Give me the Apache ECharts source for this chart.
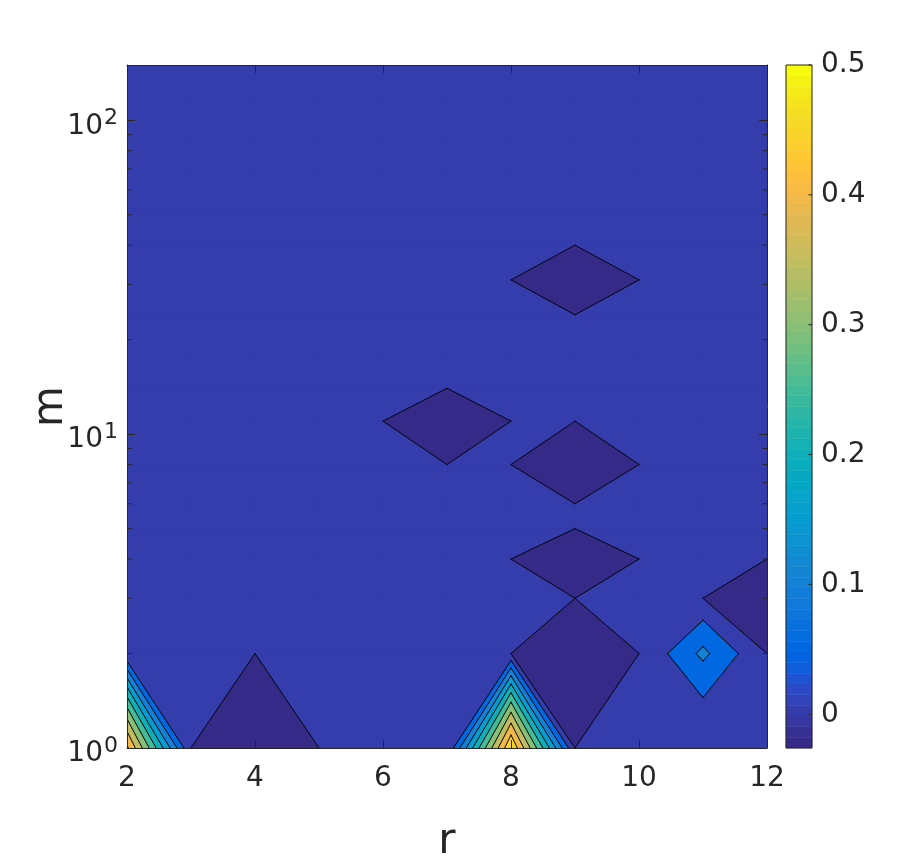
<!DOCTYPE html>
<html><head><meta charset="utf-8">
<script src="https://cdn.jsdelivr.net/npm/echarts@6/dist/echarts.min.js"></script>
<style>html,body{margin:0;padding:0;background:#fff}#c{width:915px;height:863px}</style>
</head><body><div id="c"></div>
<script>
// ---- data ----
const rValues = [2, 3, 4, 5, 6, 7, 8, 9, 10, 11, 12];
const mValues = [1, 2, 3, 4, 5, 6, 8, 11, 14, 18, 24, 31, 40, 52, 68, 89, 116, 150];
// zValues[i] = row for mValues[i], one value per rValues entry
const zValues = [
  [0.46, 0, -0.02, 0, 0, 0, 0.5, 0, 0, 0, 0],      // m=1
  [0, 0, 0, 0, 0, 0, 0, -0.02, 0, 0.112, 0],       // m=2
  [0, 0, 0, 0, 0, 0, 0, 0, 0, 0, -0.02],           // m=3
  [0, 0, 0, 0, 0, 0, 0, -0.02, 0, 0, 0],           // m=4
  [0, 0, 0, 0, 0, 0, 0, 0, 0, 0, 0],               // m=5
  [0, 0, 0, 0, 0, 0, 0, 0, 0, 0, 0],               // m=6
  [0, 0, 0, 0, 0, 0, 0, -0.02, 0, 0, 0],           // m=8
  [0, 0, 0, 0, 0, -0.02, 0, 0, 0, 0, 0],           // m=11
  [0, 0, 0, 0, 0, 0, 0, 0, 0, 0, 0],               // m=14
  [0, 0, 0, 0, 0, 0, 0, 0, 0, 0, 0],               // m=18
  [0, 0, 0, 0, 0, 0, 0, 0, 0, 0, 0],               // m=24
  [0, 0, 0, 0, 0, 0, 0, -0.026, 0, 0, 0],          // m=31
  [0, 0, 0, 0, 0, 0, 0, 0, 0, 0, 0],               // m=40
  [0, 0, 0, 0, 0, 0, 0, 0, 0, 0, 0],               // m=52
  [0, 0, 0, 0, 0, 0, 0, 0, 0, 0, 0],               // m=68
  [0, 0, 0, 0, 0, 0, 0, 0, 0, 0, 0],               // m=89
  [0, 0, 0, 0, 0, 0, 0, 0, 0, 0, 0],               // m=116
  [0, 0, 0, 0, 0, 0, 0, 0, 0, 0, 0]                // m=150
];
const contourLevels = [0, 0.05, 0.1, 0.15, 0.2, 0.25, 0.3, 0.35, 0.4, 0.45, 0.5];
const xTicks = [2, 4, 6, 8, 10, 12];
const yMinorTicks = [2, 3, 4, 5, 6, 7, 8, 9, 20, 30, 40, 50, 60, 70, 80, 90];
const colorbarTicks = [0, 0.1, 0.2, 0.3, 0.4, 0.5];
const parula = [[0.2081,0.1663,0.5292],[0.2116,0.1898,0.5777],[0.2123,0.2138,0.6270],[0.2081,0.2386,0.6771],[0.1959,0.2645,0.7279],[0.1707,0.2919,0.7792],[0.1253,0.3242,0.8303],[0.0591,0.3598,0.8683],[0.0117,0.3875,0.8820],[0.0060,0.4086,0.8828],[0.0165,0.4266,0.8786],[0.0329,0.4430,0.8720],[0.0498,0.4586,0.8641],[0.0629,0.4737,0.8554],[0.0723,0.4887,0.8467],[0.0779,0.5040,0.8384],[0.0793,0.5200,0.8312],[0.0749,0.5375,0.8263],[0.0641,0.5570,0.8240],[0.0488,0.5772,0.8228],[0.0343,0.5966,0.8199],[0.0265,0.6137,0.8135],[0.0239,0.6287,0.8038],[0.0231,0.6418,0.7913],[0.0228,0.6535,0.7768],[0.0267,0.6642,0.7607],[0.0384,0.6743,0.7436],[0.0590,0.6838,0.7254],[0.0843,0.6928,0.7062],[0.1133,0.7015,0.6859],[0.1453,0.7098,0.6646],[0.1801,0.7177,0.6424],[0.2178,0.7250,0.6193],[0.2586,0.7317,0.5954],[0.3022,0.7376,0.5712],[0.3482,0.7424,0.5473],[0.3953,0.7459,0.5244],[0.4420,0.7481,0.5033],[0.4871,0.7491,0.4840],[0.5300,0.7491,0.4661],[0.5709,0.7485,0.4494],[0.6099,0.7473,0.4337],[0.6473,0.7456,0.4188],[0.6834,0.7435,0.4044],[0.7184,0.7411,0.3905],[0.7525,0.7384,0.3768],[0.7858,0.7356,0.3633],[0.8185,0.7327,0.3498],[0.8507,0.7299,0.3360],[0.8824,0.7274,0.3217],[0.9139,0.7258,0.3063],[0.9450,0.7261,0.2886],[0.9739,0.7314,0.2666],[0.9938,0.7455,0.2403],[0.9990,0.7653,0.2164],[0.9955,0.7861,0.1967],[0.9880,0.8066,0.1794],[0.9789,0.8271,0.1633],[0.9697,0.8481,0.1475],[0.9626,0.8705,0.1309],[0.9589,0.8949,0.1132],[0.9598,0.9218,0.0948],[0.9661,0.9514,0.0755],[0.9763,0.9831,0.0538]];

// ---- derived ----
const FONT = 'DejaVu Sans';
const INK = '#262626';
let CMIN = Infinity, CMAX = -Infinity;
zValues.forEach(row => row.forEach(v => { CMIN = Math.min(CMIN, v); CMAX = Math.max(CMAX, v); }));
const rMin = rValues[0], rMax = rValues[rValues.length - 1];
const mMin = mValues[0], mMax = mValues[mValues.length - 1];
function rgb(c) { return 'rgb(' + c.map(v => Math.round(v * 255)).join(',') + ')'; }
function colorFor(v) {
  let idx = Math.floor((v - CMIN) / (CMAX - CMIN) * parula.length);
  idx = Math.max(0, Math.min(parula.length - 1, idx));
  return rgb(parula[idx]);
}

// marching-squares style clipping of each grid cell for each level
const fillPolys = [];
const segments = [];
fillPolys.push({ color: rgb(parula[0]), pts: [[rMin, mMin], [rMax, mMin], [rMax, mMax], [rMin, mMax]] });
function polyArea(pts) {
  let a = 0;
  for (let i = 0; i < pts.length; i++) {
    const p = pts[i], q = pts[(i + 1) % pts.length];
    a += p[0] * Math.log10(q[1]) - q[0] * Math.log10(p[1]);
  }
  return Math.abs(a / 2);
}
contourLevels.forEach(L => {
  const col = colorFor(L);
  for (let j = 0; j < mValues.length - 1; j++) {
    for (let i = 0; i < rValues.length - 1; i++) {
      const cell = [
        { r: rValues[i], m: mValues[j], z: zValues[j][i] },
        { r: rValues[i + 1], m: mValues[j], z: zValues[j][i + 1] },
        { r: rValues[i + 1], m: mValues[j + 1], z: zValues[j + 1][i + 1] },
        { r: rValues[i], m: mValues[j + 1], z: zValues[j + 1][i] }
      ];
      const out = [], cross = [];
      for (let k = 0; k < 4; k++) {
        const P = cell[k], Q = cell[(k + 1) % 4];
        const pin = P.z >= L, qin = Q.z >= L;
        if (pin) out.push([P.r, P.m]);
        if (pin !== qin) {
          const t = (L - P.z) / (Q.z - P.z);
          const I = [P.r + t * (Q.r - P.r), P.m + t * (Q.m - P.m)];
          out.push(I); cross.push(I);
        }
      }
      if (out.length >= 3 && polyArea(out) > 1e-9) fillPolys.push({ color: col, pts: out });
      for (let k = 0; k + 1 < cross.length; k += 2) {
        const a = cross[k], b = cross[k + 1];
        if (Math.abs(a[0] - b[0]) + Math.abs(a[1] - b[1]) > 1e-9) segments.push([a, b]);
      }
    }
  }
});

const cbStep = (CMAX - CMIN) / parula.length;

const axisLineStyle = { color: INK, width: 1 };
const option = {
  animation: false,
  backgroundColor: '#fff',
  grid: [
    { left: 127, top: 65, width: 640, height: 683, outerBoundsMode: 'none', containLabel: false },
    { left: 786, top: 65, width: 26, height: 683, outerBoundsMode: 'none', containLabel: false }
  ],
  xAxis: [
    { gridIndex: 0, type: 'value', min: rMin, max: rMax, interval: 2, position: 'bottom', z: 10,
      axisLine: { show: true, lineStyle: axisLineStyle },
      axisTick: { show: true, inside: true, length: 8, lineStyle: axisLineStyle },
      axisLabel: { show: true, margin: 17, fontSize: 28, fontFamily: FONT, color: INK },
      splitLine: { show: false },
      name: 'r', nameLocation: 'middle', nameGap: 73,
      nameTextStyle: { fontSize: 42, fontFamily: FONT, color: INK } },
    { gridIndex: 0, type: 'value', min: rMin, max: rMax, interval: 2, position: 'top', z: 10,
      axisLine: { show: true, lineStyle: axisLineStyle },
      axisTick: { show: true, inside: true, length: 8, lineStyle: axisLineStyle },
      axisLabel: { show: false }, splitLine: { show: false } },
    { gridIndex: 1, type: 'value', min: 0, max: 1, show: false,
      axisLine: { show: false }, axisTick: { show: false }, axisLabel: { show: false }, splitLine: { show: false } }
  ],
  yAxis: [
    { gridIndex: 0, type: 'log', logBase: 10, min: mMin, max: mMax, position: 'left', z: 10,
      axisLine: { show: true, lineStyle: axisLineStyle },
      axisTick: { show: true, inside: true, length: 8, lineStyle: axisLineStyle },
      axisLabel: { show: true, margin: 9, showMaxLabel: false, fontFamily: FONT, color: INK,
        padding: [12, 0, 0, 0],
        formatter: v => {
          const e = Math.round(Math.log10(v));
          if (Math.abs(Math.pow(10, e) - v) > 1e-6 * v) return '';
          return '{a|10}{b|' + e + '}';
        },
        rich: { a: { fontSize: 28, fontFamily: FONT, color: INK },
                b: { fontSize: 22, fontFamily: FONT, color: INK, padding: [0, 0, 16, 1] } } },
      splitLine: { show: false },
      name: 'm', nameLocation: 'middle', nameGap: 55, nameMoveOverlap: false,
      nameTextStyle: { fontSize: 42, fontFamily: FONT, color: INK } },
    { gridIndex: 0, type: 'log', logBase: 10, min: mMin, max: mMax, position: 'right', z: 10,
      axisLine: { show: true, lineStyle: axisLineStyle },
      axisTick: { show: true, inside: true, length: 8, lineStyle: axisLineStyle },
      axisLabel: { show: false }, splitLine: { show: false } },
    { gridIndex: 1, type: 'value', min: CMIN, max: CMAX, position: 'right', z: 10,
      axisLine: { show: false },
      axisTick: { show: false },
      axisLabel: { show: true, margin: 9, customValues: colorbarTicks, fontSize: 28, fontFamily: FONT, color: INK,
        formatter: v => String(Math.round(v * 10) / 10) },
      splitLine: { show: false } }
  ],
  series: [
    { type: 'custom', xAxisIndex: 0, yAxisIndex: 0, z: 2, clip: true,
      data: fillPolys.map(p => [p.pts[0][0], p.pts[0][1]]),
      renderItem: (params, api) => {
        const p = fillPolys[params.dataIndex];
        return { type: 'polygon', shape: { points: p.pts.map(q => api.coord(q)) },
                 style: { fill: p.color, stroke: p.color, lineWidth: 0.8 } };
      } },
    { type: 'custom', xAxisIndex: 0, yAxisIndex: 0, z: 3, clip: true,
      data: segments.map(s => [s[0][0], s[0][1]]),
      renderItem: (params, api) => {
        const s = segments[params.dataIndex];
        const a = api.coord(s[0]), b = api.coord(s[1]);
        return { type: 'line', shape: { x1: a[0], y1: a[1], x2: b[0], y2: b[1] },
                 style: { stroke: '#000', lineWidth: 1, lineCap: 'round' } };
      } },
    { type: 'custom', xAxisIndex: 0, yAxisIndex: 0, z: 11,
      data: yMinorTicks.map(m => [rMin, m]),
      renderItem: (params, api) => {
        const m = yMinorTicks[params.dataIndex];
        const a = api.coord([rMin, m]), b = api.coord([rMax, m]);
        return { type: 'group', children: [
          { type: 'line', shape: { x1: a[0], y1: a[1], x2: a[0] + 4.5, y2: a[1] }, style: { stroke: INK, lineWidth: 1 } },
          { type: 'line', shape: { x1: b[0], y1: b[1], x2: b[0] - 4.5, y2: b[1] }, style: { stroke: INK, lineWidth: 1 } }
        ] };
      } },
    { type: 'custom', xAxisIndex: 2, yAxisIndex: 2, z: 2,
      data: parula.map((c, i) => [0.5, CMIN + (i + 0.5) * cbStep]),
      renderItem: (params, api) => {
        const i = params.dataIndex;
        const lo = CMIN + i * cbStep, hi = lo + cbStep;
        const cs = params.coordSys;
        const yLo = api.coord([0.5, lo])[1], yHi = api.coord([0.5, hi])[1];
        const col = rgb(parula[i]);
        return { type: 'rect', shape: { x: cs.x, y: yHi, width: cs.width, height: yLo - yHi },
                 style: { fill: col, stroke: col, lineWidth: 0.5 } };
      } },
    { type: 'custom', xAxisIndex: 2, yAxisIndex: 2, z: 12,
      data: colorbarTicks.map(v => [0.5, v]),
      renderItem: (params, api) => {
        const v = colorbarTicks[params.dataIndex];
        const cs = params.coordSys;
        const y = api.coord([0.5, v])[1];
        const xr = cs.x + cs.width;
        return { type: 'line', shape: { x1: xr, y1: y, x2: xr - 3.5, y2: y },
                 style: { stroke: INK, lineWidth: 1 } };
      } },
    { type: 'custom', xAxisIndex: 2, yAxisIndex: 2, z: 12,
      data: [[0.5, CMIN]],
      renderItem: (params, api) => {
        const cs = params.coordSys;
        const yLo = api.coord([0.5, CMIN])[1], yHi = api.coord([0.5, CMAX])[1];
        return { type: 'rect', shape: { x: cs.x, y: yHi, width: cs.width, height: yLo - yHi },
                 style: { fill: 'none', stroke: INK, lineWidth: 1 } };
      } }
  ]
};
const chart = echarts.init(document.getElementById('c'), null, { renderer: 'canvas' });
chart.setOption(option);
</script></body></html>
